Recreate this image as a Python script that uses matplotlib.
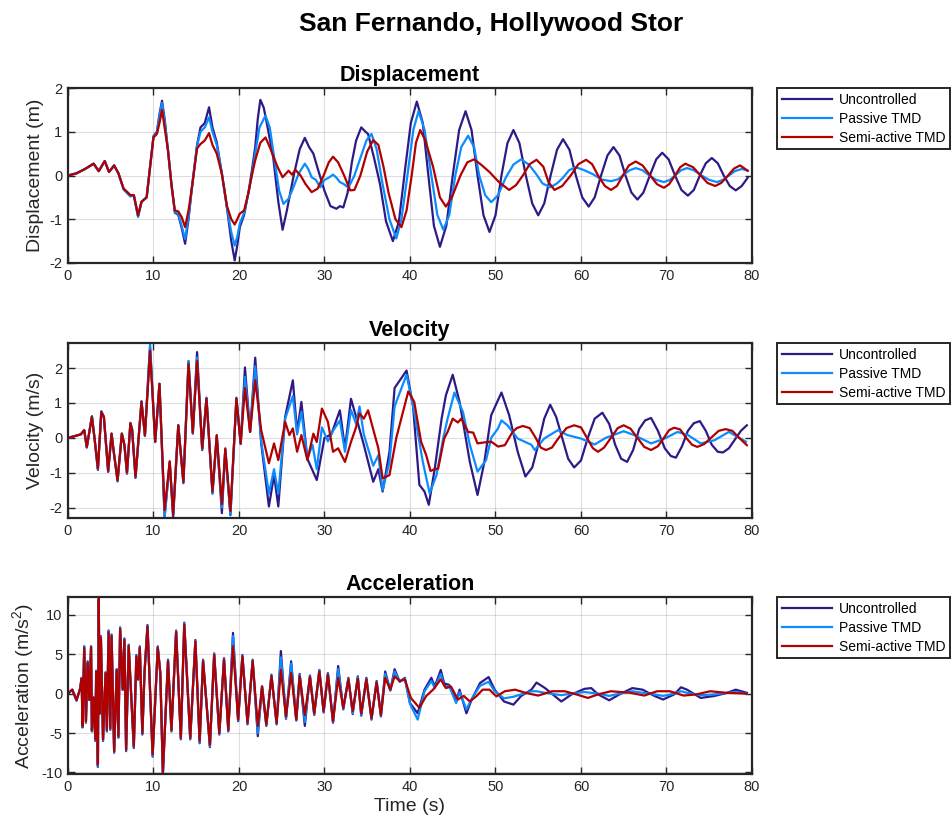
import numpy as np
import matplotlib
matplotlib.use('Agg')
import matplotlib.pyplot as plt

plt.rcParams['font.family'] = ['Liberation Sans', 'DejaVu Sans']
plt.rcParams['mathtext.default'] = 'regular'
plt.rcParams['axes.unicode_minus'] = False

COL_UNC = '#2e1a87'
COL_PAS = '#0a8cff'
COL_SEMI = '#b00000'
LABELS = ['Uncontrolled', 'Passive TMD', 'Semi-active TMD']

# ---------------- displacement (m) ----------------
disp_unc_t = [0, 1, 2, 3, 3.6, 4.3, 4.8, 5.4, 5.9, 6.5, 7.3, 7.7, 8.2, 8.6, 9.2, 10, 10.4, 10.7, 11, 11.3,
              11.7, 12.1, 12.5, 12.9, 13.3, 13.7, 14.1, 14.5, 15.1, 15.5, 16.0, 16.5, 16.9, 17.4, 18, 18.6,
              19.1, 19.5, 19.8, 20.1, 20.6, 21.1, 21.5, 21.9, 22.2, 22.5, 22.9, 23.3, 24, 24.6, 25.1, 25.6,
              26.4, 27.1, 27.7, 28.2, 28.7, 29.3, 30, 30.7, 31.4, 31.8, 32.2, 32.7, 33.2, 33.7, 34.3, 34.8,
              35.1, 35.8, 36.5, 37.2, 38, 38.7, 39.4, 40.1, 40.8, 41.5, 42.15, 42.8, 43.5, 44.25, 45.0,
              45.75, 46.5, 47.2, 47.9, 48.6, 49.3, 50.0, 50.7, 51.4, 52.1, 52.8, 53.55, 54.3, 55.0, 55.7,
              56.45, 57.2, 57.9, 58.65, 59.4, 60.15, 60.9, 61.6, 62.35, 63.1, 63.8, 64.5, 65.2, 65.9, 66.6,
              67.3, 68.05, 68.8, 69.5, 70.25, 71.0, 71.75, 72.5, 73.2, 73.9, 74.6, 75.3, 76.0, 76.7, 77.4,
              78.1, 78.8, 79.5]
disp_unc = [0, 0.05, 0.15, 0.27, 0.1, 0.33, 0.08, 0.23, 0.05, -0.3, -0.45, -0.45, -0.93, -0.6, -0.5, 0.9,
            1.0, 1.4, 1.71, 1.3, 0.57, -0.2, -0.85, -0.9, -1.2, -1.56, -1.0, -0.27, 0.7, 1.1, 1.2, 1.56,
            1.1, 0.76, 0.04, -0.75, -1.5, -1.94, -1.6, -1.18, -0.9, -0.4, 0.1, 0.65, 1.3, 1.73, 1.55, 1.15,
            0.42, -0.6, -1.24, -0.8, 0.0, 0.6, 0.86, 0.65, 0.5, 0.1, -0.35, -0.7, -0.76, -0.7, -0.73, -0.4,
            0.3, 0.8, 1.1, 1.0, 0.95, 0.4, -0.2, -1.05, -1.5, -1.06, 0.1, 1.2, 1.69, 1.2, 0.0, -1.15,
            -1.63, -1.15, 0.0, 1.04, 1.47, 1.04, 0.0, -0.91, -1.29, -0.91, 0.0, 0.74, 1.04, 0.74, 0.0,
            -0.64, -0.91, -0.64, 0.0, 0.59, 0.83, 0.59, 0.0, -0.5, -0.71, -0.5, 0.0, 0.46, 0.65, 0.46, 0.0,
            -0.39, -0.55, -0.39, 0.0, 0.37, 0.52, 0.37, 0.0, -0.33, -0.46, -0.33, 0.0, 0.28, 0.4, 0.28, 0.0,
            -0.24, -0.34, -0.24, -0.05]

disp_pas_t = [0, 1, 2, 3, 3.6, 4.3, 4.8, 5.4, 5.9, 6.5, 7.3, 7.7, 8.2, 8.6, 9.2, 10, 10.4, 10.7, 11, 11.3,
              11.7, 12.1, 12.5, 12.9, 13.3, 13.7, 14.1, 14.5, 15.1, 15.5, 16.0, 16.5, 16.9, 17.4, 18, 18.6,
              19.1, 19.5, 19.8, 20.1, 20.6, 21.1, 21.5, 21.9, 22.4, 23.1, 23.6, 24.2, 24.7, 25.2, 25.8, 26.3,
              27.0, 27.7, 28.1, 28.5, 29.0, 29.5, 30, 30.5, 31, 31.4, 31.8, 32.3, 32.8, 33.5, 34.2, 34.9,
              35.5, 36.1, 36.8, 37.6, 38.4, 39.0, 39.7, 40.4, 41, 41.7, 42.5, 43.2, 43.9, 44.6, 45.3, 46.0,
              46.8, 47.5, 48.1, 48.8, 49.5, 50.3, 51.2, 52.1, 53, 53.9, 54.7, 55.5, 56.4, 57.2, 57.9, 58.6,
              59.4, 60.4, 61.4, 62.4, 63.5, 64.3, 65, 65.7, 66.4, 67.2, 68, 68.8, 69.7, 70.4, 71, 71.7,
              72.4, 73.2, 74.1, 75.0, 75.9, 76.6, 77.3, 78.0, 78.8, 79.5]
disp_pas = [0, 0.05, 0.15, 0.27, 0.1, 0.33, 0.08, 0.23, 0.05, -0.32, -0.48, -0.45, -0.95, -0.6, -0.5, 0.88,
            0.98, 1.35, 1.66, 1.25, 0.57, -0.2, -0.83, -0.88, -1.15, -1.45, -0.95, -0.27, 0.68, 1.0, 1.1,
            1.33, 1.0, 0.7, 0.04, -0.73, -1.3, -1.6, -1.4, -1.1, -0.85, -0.4, 0.0, 0.5, 1.1, 1.37, 1.1,
            0.3, -0.35, -0.65, -0.53, -0.3, 0.05, 0.27, 0.15, -0.04, -0.1, -0.27, -0.1, -0.05, 0.02, -0.05,
            -0.15, -0.2, -0.28, 0.0, 0.4, 0.8, 0.95, 0.6, -0.2, -1.0, -1.44, -1.0, 0.0, 1.05, 1.47, 1.05,
            0.0, -0.9, -1.24, -0.9, 0.0, 0.65, 0.91, 0.65, 0.0, -0.45, -0.61, -0.45, -0.05, 0.25, 0.37,
            0.25, 0.05, -0.18, -0.27, -0.18, -0.05, 0.12, 0.19, 0.12, 0.03, -0.09, -0.13, -0.09, 0.02,
            0.12, 0.17, 0.12, 0.0, -0.1, -0.15, -0.1, 0.0, 0.12, 0.17, 0.12, 0.0, -0.1, -0.15, -0.1, 0.0,
            0.1, 0.15, 0.11]

disp_semi_t = [0, 1, 2, 3, 3.6, 4.3, 4.8, 5.4, 5.9, 6.5, 7.3, 7.7, 8.2, 8.6, 9.2, 10, 10.4, 10.7, 11, 11.3,
               11.7, 12.1, 12.5, 12.9, 13.3, 13.7, 14.1, 14.5, 15.1, 15.5, 16.0, 16.5, 16.9, 17.4, 18, 18.6,
               19.1, 19.5, 19.8, 20.1, 20.6, 21.1, 21.5, 21.9, 22.5, 23.1, 23.6, 24, 24.5, 25.1, 25.8, 26.2,
               26.6, 27.2, 27.8, 28.5, 29.2, 29.9, 30.5, 31, 31.6, 32.3, 33, 33.5, 34.2, 35.0, 35.7, 36.3,
               36.9, 37.5, 38.3, 39, 39.6, 40.2, 40.7, 41.2, 41.8, 42.7, 43.5, 44.2, 44.9, 45.9, 46.7, 47.5,
               48.3, 49.3, 50.4, 51.6, 52.4, 53.2, 54.0, 54.8, 55.6, 56.2, 56.9, 57.8, 58.8, 59.7, 60.6,
               61.3, 62, 62.8, 63.5, 64.2, 64.9, 65.6, 66.4, 67.2, 68.1, 68.9, 69.7, 70.3, 71, 71.6, 72.2,
               73.1, 74, 74.8, 75.7, 76.4, 77.2, 77.9, 78.6, 79.5]
disp_semi = [0, 0.05, 0.15, 0.27, 0.1, 0.33, 0.08, 0.23, 0.05, -0.3, -0.45, -0.45, -0.91, -0.6, -0.5, 0.87,
             0.95, 1.2, 1.5, 1.1, 0.57, -0.2, -0.8, -0.82, -0.95, -1.18, -0.8, -0.27, 0.62, 0.72, 0.8, 0.97,
             0.7, 0.5, 0.04, -0.7, -1.0, -1.12, -1.0, -0.87, -0.8, -0.4, 0.0, 0.35, 0.75, 0.87, 0.65, 0.45,
             0.2, -0.04, 0.11, 0.02, 0.13, 0.0, -0.2, -0.38, -0.3, 0.0, 0.3, 0.43, 0.3, 0.0, -0.34, -0.33,
             0.0, 0.55, 0.81, 0.7, 0.2, -0.4, -1.0, -1.18, -0.8, 0.0, 0.75, 1.04, 0.8, 0.2, -0.5, -0.71,
             -0.5, 0.0, 0.3, 0.37, 0.25, 0.08, -0.15, -0.33, -0.22, 0.0, 0.26, 0.36, 0.2, -0.15, -0.33,
             -0.24, 0.0, 0.26, 0.36, 0.26, 0.0, -0.24, -0.33, -0.24, 0.0, 0.23, 0.32, 0.23, 0.0, -0.2,
             -0.28, -0.2, 0.0, 0.19, 0.27, 0.19, 0.0, -0.17, -0.24, -0.17, 0.0, 0.16, 0.23, 0.11]

# ---------------- velocity (m/s) ----------------
vel_unc_t = [0, 0.8, 1.5, 1.9, 2.2, 2.8, 3.1, 3.5, 3.9, 4.2, 4.7, 5.1, 5.3, 5.8, 6.3, 6.6, 6.9, 7.3, 7.5, 7.9,
             8.6, 9.0, 9.6, 10.2, 10.7, 11.3, 11.9, 12.3, 12.9, 13.5, 14.1, 14.6, 15.1, 15.7, 16.2, 16.9,
             17.4, 18.0, 18.4, 19.0, 19.7, 20.2, 20.7, 21.3, 21.9, 22.6, 23.5, 24.1, 24.6, 25.4, 26.3, 26.8,
             27.3, 28.0, 29.1, 30.0, 30.8, 31.8, 32.4, 33.1, 33.7, 34.6, 35.7, 36.3, 36.8, 37.6, 38.2, 39.6,
             40.35, 41.1, 41.7, 42.2, 42.9, 43.7, 44.2, 45.0, 45.8, 47.0, 47.9, 48.7, 49.5, 50.7, 51.6, 52.6,
             53.5, 54.3, 55.0, 55.7, 56.4, 57.1, 57.8, 58.5, 59.2, 60.0, 60.8, 61.6, 62.5, 63.3, 64.0, 64.7,
             65.4, 66.1, 66.8, 67.5, 68.2, 69.0, 69.8, 70.5, 71.1, 71.8, 72.5, 73.2, 73.9, 74.6, 75.3, 76.0,
             76.6, 77.3, 78.0, 78.7, 79.4]
vel_unc = [0, 0.05, 0.1, 0.22, -0.28, 0.62, 0.0, -0.92, 0.76, 0.6, -0.98, 0.12, -0.3, -1.25, 0.12, -0.2,
           -1.03, 0.43, 0.25, -1.15, 1.05, 0.05, 2.6, -0.12, 1.55, -2.25, -0.7, -2.3, 0.36, -1.3, 2.2, 0.12,
           2.46, -0.35, 1.15, -1.6, 0.05, -2.16, -0.35, -2.22, 1.15, -0.18, 2.02, 0.17, 2.3, -0.16, -1.97,
           -1.07, -1.97, 0.6, 1.65, 0.17, 1.03, -0.6, -1.21, 0.0, 0.1, 0.79, -0.3, 1.12, 0.6, -0.2, -1.26,
           -0.9, -1.54, -0.4, 1.43, 1.93, 0.93, -1.35, -1.54, -1.92, -0.88, 0.55, 1.22, 1.81, 1.03, -0.69,
           -1.64, -0.69, 0.65, 1.3, 0.65, -0.4, -1.11, -0.85, -0.2, 0.55, 0.95, 0.6, 0.0, -0.6, -0.85,
           -0.65, 0.0, 0.55, 0.72, 0.4, -0.2, -0.6, -0.69, -0.35, 0.25, 0.5, 0.57, 0.2, -0.3, -0.52, -0.57,
           -0.25, 0.2, 0.42, 0.48, 0.2, -0.2, -0.4, -0.42, -0.3, -0.05, 0.2, 0.36]

vel_pas_t = [0, 0.8, 1.5, 1.9, 2.2, 2.8, 3.1, 3.5, 3.9, 4.2, 4.7, 5.1, 5.3, 5.8, 6.3, 6.6, 6.9, 7.3, 7.5, 7.9,
             8.6, 9.0, 9.6, 10.2, 10.7, 11.3, 11.9, 12.3, 12.9, 13.5, 14.1, 14.6, 15.1, 15.7, 16.2, 16.9,
             17.4, 18.0, 18.4, 19.0, 19.7, 20.2, 20.7, 21.3, 21.9, 22.6, 23.5, 24.1, 24.6, 25.4, 26.3, 26.8,
             27.3, 28.0, 28.6, 29.1, 29.7, 30.4, 31.0, 31.8, 32.4, 33.1, 33.7, 34.1, 34.6, 35.7, 36.3, 36.8,
             37.6, 38.2, 39.6, 40.5, 41.5, 42.3, 43.1, 43.9, 44.4, 45.2, 46.2, 47.0, 47.9, 48.9, 49.5, 50.3,
             50.7, 51.4, 52.6, 54.2, 54.6, 55.7, 57.3, 58.4, 60.0, 61.6, 62.9, 65.0, 66.2, 68.2, 69.7, 71.3,
             72.5, 74.0, 75.6, 77.3, 79.3]
vel_pas = [0, 0.05, 0.1, 0.22, -0.27, 0.62, 0.0, -0.9, 0.76, 0.6, -0.97, 0.12, -0.3, -1.23, 0.12, -0.2,
           -1.01, 0.42, 0.25, -1.13, 1.05, 0.06, 2.7, -0.12, 1.55, -2.3, -0.7, -2.2, 0.36, -1.28, 2.2, 0.14,
           2.3, -0.33, 1.15, -1.58, 0.06, -2.0, -0.33, -2.2, 1.12, -0.17, 1.75, 0.17, 2.05, -0.1, -1.6, -0.9,
           -1.6, 0.55, 1.2, 0.1, 0.75, -0.6, -0.2, -0.9, 0.3, -0.1, 0.2, 0.5, -0.4, 0.8, 0.4, 0.9, 0.1, -0.8,
           -0.5, -1.5, -0.7, 0.9, 1.81, 0.74, -0.69, -1.59, -1.07, 0.0, 0.55, 1.3, 0.74, -0.2, -0.97, -0.64,
           0.0, 0.27, 0.5, 0.36, -0.02, -0.2, -0.35, -0.02, 0.22, 0.08, -0.02, -0.19, 0.0, 0.19, 0.08, -0.16,
           -0.03, 0.17, 0.08, -0.16, -0.07, 0.17, -0.11]

vel_semi_t = [0, 0.8, 1.5, 1.9, 2.2, 2.8, 3.1, 3.5, 3.9, 4.2, 4.7, 5.1, 5.3, 5.8, 6.3, 6.6, 6.9, 7.3, 7.5, 7.9,
              8.6, 9.0, 9.6, 10.2, 10.7, 11.3, 11.9, 12.3, 12.9, 13.5, 14.1, 14.6, 15.1, 15.7, 16.2, 16.9,
              17.4, 18.0, 18.4, 19.0, 19.7, 20.2, 20.7, 21.3, 21.9, 22.6, 23.5, 24.1, 24.6, 25.4, 25.9, 26.3,
              26.8, 27.3, 28.0, 28.7, 29.1, 29.7, 30.4, 31.0, 31.6, 32.4, 33.1, 33.7, 34.1, 34.6, 35.1, 36.3,
              36.8, 37.6, 38.4, 39.8, 40.5, 41.3, 41.9, 42.4, 42.9, 43.3, 44.0, 44.4, 45.0, 45.6, 46.0, 46.8,
              47.4, 47.9, 48.7, 49.5, 50.3, 51.1, 52.0, 52.5, 53.2, 54.0, 54.7, 55.3, 55.9, 56.6, 57.4, 58.3,
              59.2, 60.0, 60.7, 61.4, 62.0, 62.7, 63.5, 64.3, 65.0, 65.8, 66.6, 67.4, 68.2, 69.0, 69.7, 70.3,
              70.9, 71.6, 72.3, 73.0, 73.6, 74.4, 75.2, 76.1, 76.9, 77.7, 78.5, 79.4]
vel_semi = [0, 0.05, 0.1, 0.22, -0.26, 0.6, 0.0, -0.88, 0.74, 0.6, -0.95, 0.12, -0.3, -1.21, 0.12, -0.2,
            -0.99, 0.41, 0.22, -1.11, 1.03, 0.08, 2.5, -0.11, 1.55, -2.07, -0.67, -2.2, 0.36, -1.26, 2.12,
            0.15, 2.2, -0.3, 1.12, -1.54, 0.08, -1.9, -0.3, -2.1, 1.12, -0.16, 1.43, 0.17, 1.65, 0.22, -0.73,
            -0.16, -0.64, 0.46, 0.08, 0.27, -0.4, 0.08, -0.64, 0.12, -0.12, 0.84, 0.46, -0.4, -0.3, -0.69,
            -0.12, 0.31, 0.7, 0.55, 0.79, -0.3, -1.16, -1.07, 0.0, 1.33, 1.03, -0.11, -0.5, -0.95, -0.9,
            -0.88, -0.02, 0.17, 0.55, 0.44, 0.55, 0.17, 0.15, -0.16, -0.13, -0.11, -0.25, -0.21, 0.17, 0.28,
            0.34, 0.28, 0.0, -0.28, -0.35, -0.28, 0.0, 0.28, 0.36, 0.3, 0.0, -0.3, -0.4, -0.28, 0.0, 0.28,
            0.36, 0.26, 0.0, -0.26, -0.35, -0.24, 0.0, 0.22, 0.29, 0.24, 0.0, -0.2, -0.26, -0.18, 0.0, 0.2,
            0.25, 0.2, 0.0, -0.21]

# ---------------- acceleration (m/s^2) ----------------
acc_t_early = [0, 0.5, 1.0, 1.4, 1.6, 1.7, 1.9, 2.1, 2.3, 2.5, 2.7, 2.8, 3.0, 3.2, 3.3, 3.5, 3.6, 3.7, 3.85,
               4.1, 4.4, 4.55, 4.75, 4.95, 5.1, 5.4, 5.7, 5.9, 6.1, 6.4, 6.6, 6.8, 7.1, 7.4, 7.7, 8.0, 8.2,
               8.4, 8.7, 8.95, 9.3, 9.9, 10.5, 10.8, 11.1, 11.7, 12.1, 12.65, 13.2, 13.6, 14.3, 14.9, 15.4,
               15.8, 16.6, 17.1, 17.7, 18.25, 18.75, 19.3, 19.9, 20.4, 21.0, 21.6, 22.2, 22.7, 23.2, 23.8,
               24.4, 24.9, 25.5, 26.1, 26.7, 27.1, 27.7, 28.3, 28.8, 29.4, 29.9, 30.4, 31.0, 31.6, 32.2,
               32.8, 33.3, 33.9, 34.3, 34.9, 35.5, 36.1, 36.6, 37.1, 37.7, 38.2, 38.8, 39.4]
acc_unc_early = [0, 0.5, -0.9, 0.6, 2.0, -4.3, 6.0, -3.7, 4.1, -0.8, 6.0, -4.8, -0.5, -6.0, 2.9, -9.3, 11.8,
                 -2.6, 7.3, -6.0, 2.7, -4.8, 8.0, -4.6, 7.5, -7.5, 3.1, -5.6, 8.4, 0.5, 7.0, -7.3, 6.2, -0.3,
                 -6.9, 4.9, 1.8, 6.0, -5.2, 2.7, 8.7, -8.0, 6.0, 2.6, -10.1, 4.3, -4.8, 8.0, -5.8, 9.0, -5.8,
                 6.8, -6.3, 4.3, -6.8, 5.1, -5.2, 4.5, -4.8, 7.7, -3.5, 4.9, -3.9, 4.3, -5.4, 0.9, -4.1, 2.4,
                 -3.9, 5.4, -3.2, 4.1, -3.4, 2.5, -4.1, 2.3, -2.7, 3.0, -2.4, 2.6, -3.7, 3.5, -2.0, 2.0, -2.6,
                 2.2, -2.8, 2.0, -3.3, 1.6, -2.9, 2.8, 0.4, 3.1, 1.5, 2.0]
acc_pas_early = [0, 0.5, -0.85, 0.55, 2.0, -4.2, 6.0, -3.6, 4.0, -0.8, 6.0, -4.7, -0.5, -5.9, 2.9, -9.2, 12.0,
                 -2.6, 7.2, -5.9, 2.7, -4.7, 8.0, -4.5, 7.4, -7.4, 3.1, -5.5, 8.3, 0.5, 6.9, -7.2, 6.1, -0.3,
                 -6.8, 4.8, 1.8, 5.9, -5.1, 2.7, 8.6, -7.9, 5.9, 2.6, -10.2, 4.2, -4.7, 7.9, -5.7, 8.9, -5.7,
                 6.7, -6.2, 4.2, -6.7, 5.0, -5.1, 4.4, -4.7, 7.3, -3.4, 4.8, -3.8, 4.2, -5.0, 0.9, -4.0, 2.3,
                 -3.8, 4.6, -3.1, 3.8, -3.4, 2.4, -3.6, 2.2, -2.6, 3.0, -2.3, 2.5, -3.6, 3.1, -1.9, 1.9, -2.5,
                 2.1, -2.7, 1.9, -3.2, 1.5, -2.8, 2.5, 0.4, 2.8, 1.5, 1.9]
acc_semi_early = [0, 0.5, -0.8, 0.5, 1.9, -4.1, 5.8, -3.5, 3.9, -0.8, 5.9, -4.6, -0.5, -5.8, 2.8, -9.0, 12.1,
                  -2.5, 7.1, -5.8, 2.6, -4.6, 7.8, -4.4, 7.3, -7.3, 3.0, -5.4, 8.2, 0.5, 6.8, -7.1, 6.0, -0.3,
                  -6.7, 4.7, 1.8, 5.8, -5.0, 2.6, 8.5, -7.7, 5.8, 2.6, -10.0, 4.1, -4.6, 7.8, -5.6, 8.75, -5.6,
                  6.6, -6.0, 4.1, -6.5, 4.9, -5.0, 4.3, -4.6, 6.0, -3.3, 4.7, -3.7, 4.1, -4.1, 0.9, -3.9, 2.2,
                  -3.7, 3.0, -2.9, 2.6, -3.3, 2.2, -2.7, 2.1, -2.5, 2.8, -2.2, 2.4, -3.5, 2.0, -1.8, 1.8, -2.2,
                  1.9, -2.5, 1.8, -3.1, 1.4, -2.7, 2.0, 0.5, 2.2, 1.6, 1.8]

acc_t_late = [40.0, 40.9, 41.7, 42.5, 42.9, 43.6, 44.0, 44.6, 45.4, 45.8, 46.6, 47.2, 48.2, 49.2, 49.9, 51.0,
              52.1, 53.0, 54.2, 54.8, 55.8, 57.7, 58.9, 60.4, 61.2, 62.0, 63.3, 64.5, 66.0, 67.2, 68.6, 69.6,
              70.9, 71.7, 72.4, 74.0, 75.6, 77.1, 78.1, 79.4]
acc_unc_late = [-1.2, -2.5, 0.5, 2.0, 0.9, 3.0, 1.3, 1.1, -1.0, 0.5, -2.5, -0.8, 1.35, 2.1, 0.5, -1.0, -1.4,
                -0.3, 0.5, 1.4, 0.7, -1.0, -0.1, 0.6, 0.7, -0.1, -0.85, -0.1, 0.7, 0.5, -0.3, -0.75, -0.1,
                0.8, 0.5, -0.55, -0.3, 0.1, 0.5, 0.1]
acc_pas_late = [-1.3, -3.3, 0.3, 1.6, 0.7, 2.5, 1.0, 0.9, -1.2, 0.2, -2.0, -0.7, 1.0, 1.5, 0.3, -0.6, -0.4,
                -0.1, 0.3, 0.3, 0.1, -0.2, 0.0, 0.2, 0.1, 0.0, -0.3, 0.0, 0.3, 0.1, -0.1, -0.3, 0.0, 0.3,
                0.1, -0.2, -0.1, 0.1, 0.2, 0.0]
acc_semi_t_late = [40.1, 41.1, 41.9, 42.7, 43.6, 44.2, 44.8, 45.6, 46.3, 47.0, 47.8, 48.5, 49.3, 50.1, 51.1,
                   52.3, 53.5, 55.0, 56.6, 58.1, 59.6, 60.8, 62.0, 63.5, 65.8, 67.4, 68.9, 70.4, 72.0, 73.5,
                   75.1, 77.0, 79.4]
acc_semi_late = [-0.55, -1.8, -0.3, 0.5, 1.8, 0.7, 0.9, -0.75, -0.3, -1.0, -0.3, 0.5, 0.5, -0.35, 0.3, 0.5,
                 0.1, -0.25, 0.3, 0.3, -0.15, -0.55, -0.1, 0.3, 0.1, -0.25, 0.3, 0.3, -0.25, -0.1, 0.3, 0.1,
                 0.0]


def style_axes(ax, title, ylabel, ylim, yticks):
    ax.set_xlim(0, 80)
    ax.set_ylim(*ylim)
    ax.set_xticks(np.arange(0, 81, 10))
    ax.set_yticks(yticks)
    ax.grid(True, color='#262626', alpha=0.15, linewidth=0.8)
    ax.set_axisbelow(True)
    ax.tick_params(direction='in', top=True, right=True, length=5, width=1,
                   labelsize=10.5, colors='#262626', pad=4)
    for s in ax.spines.values():
        s.set_linewidth(1.6)
        s.set_color('#262626')
    ax.set_title(title, fontsize=15.5, fontweight='bold', pad=5)
    ax.set_ylabel(ylabel, fontsize=14, color='#262626', labelpad=4)
    ax.legend(loc='upper left', bbox_to_anchor=(1.0365, 1.0), borderaxespad=0,
              fontsize=10, fancybox=False, framealpha=1, edgecolor='#262626',
              handlelength=3.6, labelspacing=0.35, borderpad=0.35, handletextpad=0.5)
    ax.get_legend().get_frame().set_linewidth(1.4)


fig = plt.figure(figsize=(9.52, 8.32), dpi=100)
ax1 = fig.add_axes([0.0714, 0.6839, 0.7185, 0.2103])
ax2 = fig.add_axes([0.0714, 0.3774, 0.7185, 0.2103])
ax3 = fig.add_axes([0.0714, 0.0697, 0.7185, 0.2127])

lw = 1.6
ax1.plot(disp_unc_t, disp_unc, color=COL_UNC, lw=lw, label=LABELS[0])
ax1.plot(disp_pas_t, disp_pas, color=COL_PAS, lw=lw, label=LABELS[1])
ax1.plot(disp_semi_t, disp_semi, color=COL_SEMI, lw=lw, label=LABELS[2])
style_axes(ax1, 'Displacement', 'Displacement (m)', (-2, 2), [-2, -1, 0, 1, 2])

ax2.plot(vel_unc_t, vel_unc, color=COL_UNC, lw=lw, label=LABELS[0])
ax2.plot(vel_pas_t, vel_pas, color=COL_PAS, lw=lw, label=LABELS[1])
ax2.plot(vel_semi_t, vel_semi, color=COL_SEMI, lw=lw, label=LABELS[2])
style_axes(ax2, 'Velocity', 'Velocity (m/s)', (-2.3, 2.72), [-2, -1, 0, 1, 2])

ax3.plot(acc_t_early + acc_t_late, acc_unc_early + acc_unc_late, color=COL_UNC, lw=lw, label=LABELS[0])
ax3.plot(acc_t_early + acc_t_late, acc_pas_early + acc_pas_late, color=COL_PAS, lw=lw, label=LABELS[1])
ax3.plot(acc_t_early + acc_semi_t_late, acc_semi_early + acc_semi_late, color=COL_SEMI, lw=lw,
         label=LABELS[2])
style_axes(ax3, 'Acceleration', 'Acceleration (m/s$^2$)', (-10.2, 12.25), [-10, -5, 0, 5, 10])
ax3.set_xlabel('Time (s)', fontsize=14, color='#262626', labelpad=3)

fig.suptitle('San Fernando, Hollywood Stor', x=0.516, y=0.971, va='center',
             fontsize=19, fontweight='bold')

fig.savefig('out.png', dpi=100)
